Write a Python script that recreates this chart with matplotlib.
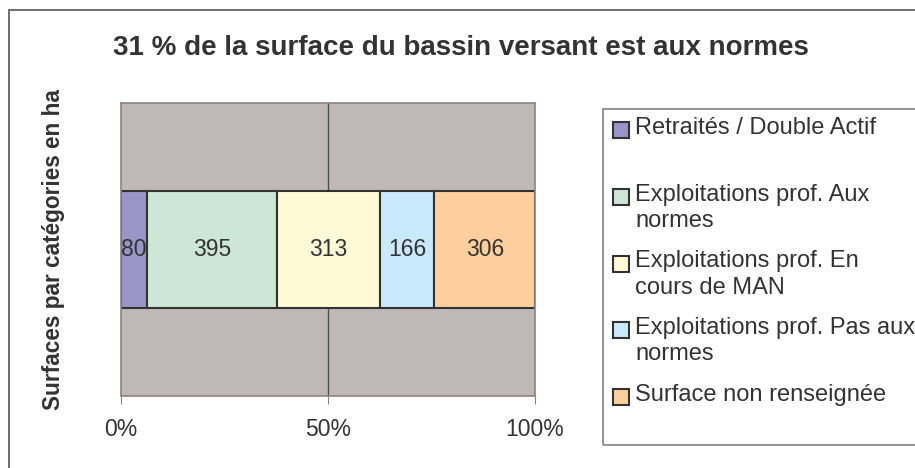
import numpy as np
import matplotlib.pyplot as plt
from matplotlib.patches import Rectangle

plt.rcParams['font.family'] = ['Liberation Sans', 'DejaVu Sans']

# données : surfaces par catégorie (ha)
categories = ["Retraités / Double Actif",
              "Exploitations prof. Aux\nnormes",
              "Exploitations prof. En\ncours de MAN",
              "Exploitations prof. Pas aux\nnormes",
              "Surface non renseignée"]
surfaces = [80, 395, 313, 166, 306]
couleurs = ['#9b95c7', '#cde6d6', '#fffad6', '#c9eafa', '#fccf9d']
ticks = [0, 50, 100]
tick_labels = ['0%', '50%', '100%']

W, H = 915, 468
txt = '#333333'


def px(x, y):
    # pixels (origine en haut à gauche) -> fraction de figure
    return x / W, 1 - y / H


fig = plt.figure(figsize=(W / 100, H / 100), dpi=100)

# cadre extérieur du graphique
fig.patches.append(Rectangle(px(9, 480), 930 / W, 470 / H, transform=fig.transFigure,
                             fill=False, edgecolor='#555555', lw=1.2))

ax = fig.add_axes([121 / W, 1 - 396 / H, 414 / W, 293 / H])
ax.set_facecolor('#c0b8b6')

pct = np.array(surfaces) / sum(surfaces) * 100
gauche = np.concatenate([[0], np.cumsum(pct)[:-1]])
ax.axvline(50, color='#4d4d4d', lw=1, zorder=1)
ax.barh([0] * len(pct), pct, left=gauche, height=0.4, color=couleurs,
        edgecolor='#333333', lw=1.5, zorder=2)
for g, p, v in zip(gauche, pct, surfaces):
    ax.text(g + p / 2, 0, str(v), ha='center', va='center', fontsize=16.5, color=txt, zorder=3)

ax.set_xlim(0, 100)
ax.set_ylim(-0.5, 0.5)
ax.set_xticks(ticks)
ax.set_xticklabels(tick_labels, fontsize=16.5, color=txt)
ax.set_yticks([])
ax.tick_params(axis='x', length=6, color='#8c8484', pad=10)
for s in ax.spines.values():
    s.set_color('#8c8484')
    s.set_linewidth(1.2)

ax.set_ylabel('Surfaces par catégories en ha', fontsize=16.3, fontweight='bold', color=txt)
ax.yaxis.set_label_coords((65 - 121) / 414, 0.5)

fig.text(*px(461, 48), '31 % de la surface du bassin versant est aux normes',
         ha='center', va='center', fontsize=20, fontweight='bold', color=txt)

# légende dessinée à la main (style Excel)
fig.patches.append(Rectangle(px(603, 445), 330 / W, 336 / H, transform=fig.transFigure,
                             fill=False, edgecolor='#808080', lw=1.2))
y0, pas = 128, 66.75
for i, (lab, c) in enumerate(zip(categories, couleurs)):
    y = y0 + i * pas
    fig.patches.append(Rectangle(px(613, y + 10), 16 / W, 16 / H, transform=fig.transFigure,
                                 facecolor=c, edgecolor='#333333', lw=1.5))
    for j, ligne in enumerate(lab.split('\n')):
        fig.text(*px(635, y + j * 26), ligne, ha='left', va='center', fontsize=17, color=txt)

plt.savefig('out.png', dpi=100)
